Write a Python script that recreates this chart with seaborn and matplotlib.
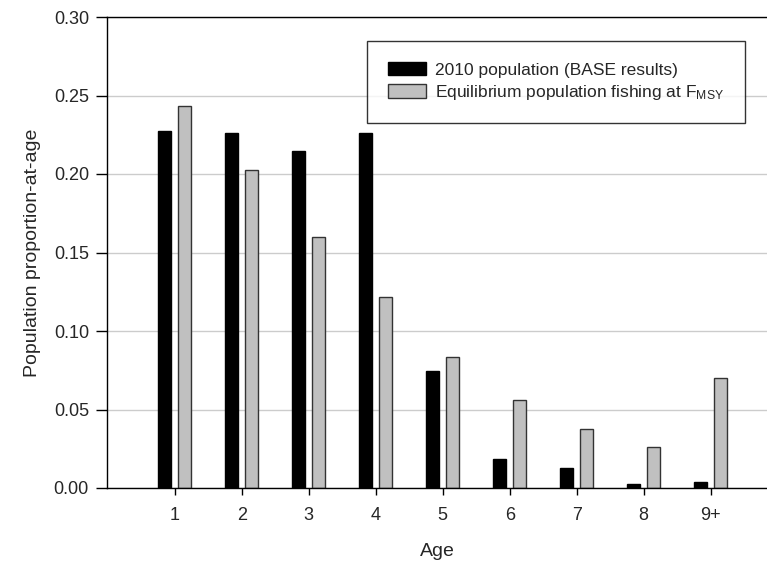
import matplotlib
matplotlib.use("Agg")
import matplotlib.pyplot as plt
import seaborn as sns
import pandas as pd

ages = ["1", "2", "3", "4", "5", "6", "7", "8", "9+"]
pop_2010 = [0.2274, 0.2260, 0.2146, 0.2260, 0.0745, 0.0185, 0.0127, 0.0025, 0.0038]
pop_equil = [0.2433, 0.2025, 0.1600, 0.1217, 0.0834, 0.0560, 0.0376, 0.0260, 0.0700]
series = ["2010 population (BASE results)", "Equilibrium population fishing at F$_{\\mathrm{MSY}}$"]
yticks = [0.00, 0.05, 0.10, 0.15, 0.20, 0.25, 0.30]

df = pd.DataFrame({
    "Age": ages * 2,
    "value": pop_2010 + pop_equil,
    "series": [series[0]] * len(ages) + [series[1]] * len(ages),
})

sns.set_style("white")
plt.rcParams["font.family"] = ["Liberation Sans", "DejaVu Sans"]
plt.rcParams["mathtext.fontset"] = "custom"
plt.rcParams["mathtext.rm"] = "Liberation Sans"
plt.rcParams["mathtext.default"] = "regular"

fig = plt.figure(figsize=(7.67, 5.65), dpi=100)
ax = fig.add_axes([107 / 767, 1 - 488 / 565, 660 / 767, 471 / 565])

sns.barplot(data=df, x="Age", y="value", hue="series", order=ages, hue_order=series,
            palette=["#000000", "#c0c0c0"], width=0.6, gap=0.36, ax=ax,
            saturation=1, errorbar=None)

edgecols = ["#000000", "#333333"]
for cont, ec in zip(ax.containers, edgecols):
    for p in cont:
        p.set_edgecolor(ec)
        p.set_linewidth(1.0)

ax.set_xlim(-1.01, 8.84)
ax.set_ylim(0, 0.30)
ax.set_yticks(yticks)
ax.set_yticklabels([f"{v:.2f}" for v in yticks])
ax.yaxis.grid(True, color="#cccccc", linewidth=1.0)
ax.set_axisbelow(True)

for s in ["left", "bottom", "top"]:
    ax.spines[s].set_visible(True)
    ax.spines[s].set_color("black")
    ax.spines[s].set_linewidth(1.0)
ax.spines["right"].set_visible(False)

ax.tick_params(axis="y", which="both", direction="out", length=8, width=1, color="black",
               labelsize=13, left=True, pad=5)
ax.tick_params(axis="x", which="both", direction="out", length=5, width=1, color="black",
               labelsize=13, bottom=True, pad=9)

ax.set_xlabel("Age", fontsize=14, labelpad=13)
ax.set_ylabel("Population proportion-at-age", fontsize=14, labelpad=9)

handles, labels = ax.get_legend_handles_labels()
leg = ax.legend(handles, labels, loc="upper right", bbox_to_anchor=(0.967, 0.949),
                borderaxespad=0, frameon=True, fancybox=False, fontsize=12.5,
                handlelength=2.2, handleheight=0.8, handletextpad=0.55,
                borderpad=1.2, labelspacing=0.32, edgecolor="black")
leg.get_frame().set_linewidth(1.0)
for h, ec in zip(leg.legend_handles, edgecols):
    h.set_edgecolor(ec)
    h.set_linewidth(1.0)

fig.savefig("out.png", dpi=100)
